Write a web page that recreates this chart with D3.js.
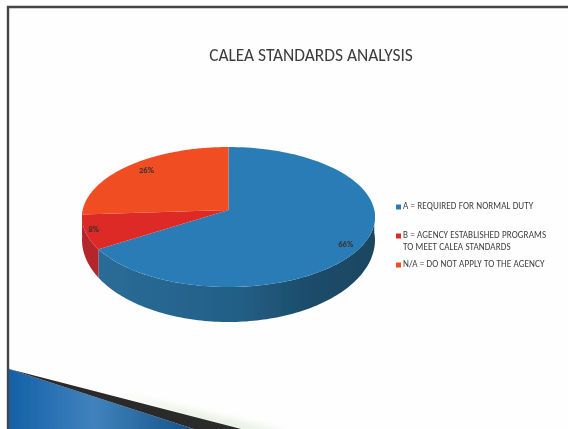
<!DOCTYPE html>
<html>
<head>
<meta charset="utf-8">
<script src="https://cdn.jsdelivr.net/npm/d3@7"></script>
<style>
  html, body { margin: 0; padding: 0; background: #fff; }
  svg { display: block; }
  text { font-family: Carlito, "Open Sans", "Noto Sans", sans-serif; }
</style>
</head>
<body>
<svg id="j-svg" width="568" height="429" viewBox="0 0 568 429"></svg>
<script>
/* global d3 */

const title = 'CALEA STANDARDS ANALYSIS';
const categories = ['A', 'B', 'N/A'];
const shares = [66, 8, 26];
const sliceColors = ['#2b7cb6', '#de2a27', '#f04e23'];
const legendLines = [
  ['A = REQUIRED FOR NORMAL DUTY'],
  ['B = AGENCY ESTABLISHED PROGRAMS', 'TO MEET CALEA STANDARDS'],
  ['N/A = DO NOT APPLY TO THE AGENCY']
];

const svg = d3.select('#j-svg');
const defs = svg.append('defs');

defs.append('filter').attr('id', 'soft')
  .attr('x', '-5%').attr('y', '-5%').attr('width', '110%').attr('height', '110%')
  .append('feGaussianBlur').attr('stdDeviation', 0.7);

defs.append('filter').attr('id', 'haze')
  .attr('x', '-20%').attr('y', '-50%').attr('width', '140%').attr('height', '200%')
  .append('feGaussianBlur').attr('stdDeviation', 3);

const sideBlue = defs.append('linearGradient').attr('id', 'side-blue');
sideBlue.append('stop').attr('offset', '0%').attr('stop-color', '#2a6c98');
sideBlue.append('stop').attr('offset', '50%').attr('stop-color', '#235f86');
sideBlue.append('stop').attr('offset', '75%').attr('stop-color', '#1d4d6c');
sideBlue.append('stop').attr('offset', '100%').attr('stop-color', '#1a4560');

const wedge = defs.append('linearGradient').attr('id', 'wedge');
wedge.append('stop').attr('offset', '0%').attr('stop-color', '#1560a8');
wedge.append('stop').attr('offset', '45%').attr('stop-color', '#3f83bd');
wedge.append('stop').attr('offset', '100%').attr('stop-color', '#154f86');

const page = svg.append('g').attr('filter', 'url(#soft)');

// frame, open on the right
page.append('rect').attr('x', -5).attr('y', -5).attr('width', 578).attr('height', 439).attr('fill', '#fefefe');
page.append('path').attr('d', d3.line()([[8, 434], [8, 7], [573, 7]]))
  .attr('fill', 'none').attr('stroke', '#454547').attr('stroke-width', 2.4);

// swoosh at the bottom of the slide
page.append('path').attr('d', d3.line()([[120, 394], [290, 432], [230, 432]]))
  .attr('fill', '#e9f2e4').attr('filter', 'url(#haze)');
page.append('path').attr('d', d3.line()([[9, 369], [197, 430], [9, 430]])).attr('fill', 'url(#wedge)');
page.append('path').attr('d', d3.line()([[9, 369], [245, 430], [197, 430]])).attr('fill', '#2a2a2c');

page.append('text').attr('x', 311).attr('y', 61).attr('text-anchor', 'middle')
  .attr('font-size', 17.4).attr('fill', '#3c3c40').text(title);

// tilted pie: d3.pie angles, then a projective squash so the apex sits above the ellipse centre
const cx = d3.scaleLinear().domain([-1, 1]).range([82, 375]);
const cy = d3.scaleLinear().domain([-1, 1]).range([147, 287]);
const depth = 35;
const tilt = -0.1;

function project(a) {
  const u = Math.sin(a);
  const v = -Math.cos(a);
  const w = 1 + tilt * v;
  return [cx(u * Math.sqrt(1 - tilt * tilt) / w), cy((v + tilt) / w)];
}

function arcPoints(a0, a1) {
  return d3.range(0, 121).map(i => project(a0 + (a1 - a0) * i / 120));
}

// wall looks shallower towards the sides
function wallDepth(y) {
  return depth * (0.65 + 0.35 * Math.max(0, cy.invert(y)));
}

const arcs = d3.pie().sort(null)(shares);
const apex = [cx(0), cy(tilt)];
const line = d3.line();
const sideShade = ['url(#side-blue)', '#b3262b', '#b3262b'];

const pie = page.append('g');

// side wall: only the front half of the rim shows
arcs.forEach((d, i) => {
  const start = Math.max(d.startAngle, Math.PI / 2);
  const end = Math.min(d.endAngle, Math.PI * 1.5);
  if (end <= start) return;
  const rim = arcPoints(start, end);
  const lower = rim.map(p => [p[0], p[1] + wallDepth(p[1])]).reverse();
  pie.append('path').attr('d', line(rim.concat(lower)) + 'Z').attr('fill', sideShade[i]);
});

pie.selectAll('path.slice').data(arcs).enter().append('path')
  .attr('class', 'slice')
  .attr('d', d => line([apex].concat(arcPoints(d.startAngle, d.endAngle))) + 'Z')
  .attr('fill', (d, i) => sliceColors[i]);

// value labels
const labelPos = [[0.8, 0.43], [-0.92, 0.21], [-0.56, -0.63]];
page.selectAll('text.pct').data(shares).enter().append('text')
  .attr('class', 'pct')
  .attr('x', (d, i) => cx(labelPos[i][0]))
  .attr('y', (d, i) => cy(labelPos[i][1]))
  .attr('text-anchor', 'middle').attr('font-size', 8.6).attr('font-weight', 700).attr('fill', '#3a3230')
  .text(d => d + '%');

// legend
const legendY = d3.scalePoint().domain(categories).range([207, 265]);
const legend = page.selectAll('g.legend').data(categories).enter().append('g')
  .attr('class', 'legend')
  .attr('transform', d => 'translate(396,' + legendY(d) + ')');

legend.append('rect').attr('x', 0).attr('y', -2.5).attr('width', 5).attr('height', 5)
  .attr('fill', (d, i) => sliceColors[i]);

legend.each(function (d, i) {
  d3.select(this).selectAll('text').data(legendLines[i]).enter().append('text')
    .attr('x', 7)
    .attr('y', (l, j) => 2 + j * 12)
    .attr('font-size', 9.1).attr('letter-spacing', 0.1).attr('fill', '#3e3e42')
    .text(l => l);
});
</script>
</body>
</html>
